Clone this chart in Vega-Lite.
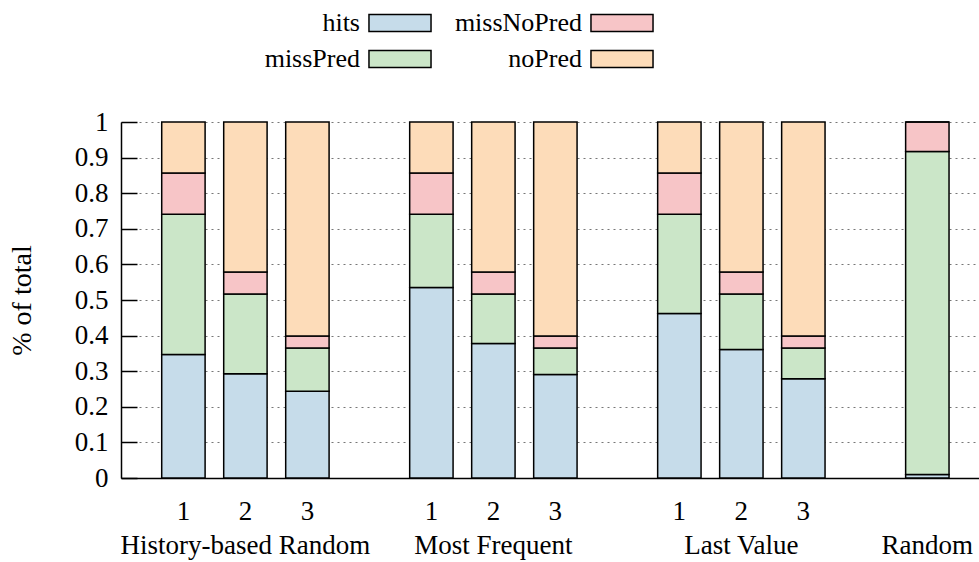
{
  "$schema": "https://vega.github.io/schema/vega-lite/v6.json",
  "width": 858,
  "height": 356,
  "autosize": {"type": "none"},
  "padding": {"left": 121, "top": 122, "right": 0, "bottom": 84},
  "background": "white",
  "config": {
    "font": "Liberation Serif",
    "view": {"stroke": null}
  },
  "data": {
    "values": [
      {"bar": "H1", "seg": "hits", "k": 1, "v": 0.347},
      {"bar": "H1", "seg": "missPred", "k": 2, "v": 0.394},
      {"bar": "H1", "seg": "missNoPred", "k": 3, "v": 0.116},
      {"bar": "H1", "seg": "noPred", "k": 4, "v": 0.143},
      {"bar": "H2", "seg": "hits", "k": 1, "v": 0.293},
      {"bar": "H2", "seg": "missPred", "k": 2, "v": 0.224},
      {"bar": "H2", "seg": "missNoPred", "k": 3, "v": 0.062},
      {"bar": "H2", "seg": "noPred", "k": 4, "v": 0.421},
      {"bar": "H3", "seg": "hits", "k": 1, "v": 0.244},
      {"bar": "H3", "seg": "missPred", "k": 2, "v": 0.121},
      {"bar": "H3", "seg": "missNoPred", "k": 3, "v": 0.034},
      {"bar": "H3", "seg": "noPred", "k": 4, "v": 0.601},
      {"bar": "M1", "seg": "hits", "k": 1, "v": 0.535},
      {"bar": "M1", "seg": "missPred", "k": 2, "v": 0.206},
      {"bar": "M1", "seg": "missNoPred", "k": 3, "v": 0.116},
      {"bar": "M1", "seg": "noPred", "k": 4, "v": 0.143},
      {"bar": "M2", "seg": "hits", "k": 1, "v": 0.378},
      {"bar": "M2", "seg": "missPred", "k": 2, "v": 0.139},
      {"bar": "M2", "seg": "missNoPred", "k": 3, "v": 0.062},
      {"bar": "M2", "seg": "noPred", "k": 4, "v": 0.421},
      {"bar": "M3", "seg": "hits", "k": 1, "v": 0.291},
      {"bar": "M3", "seg": "missPred", "k": 2, "v": 0.074},
      {"bar": "M3", "seg": "missNoPred", "k": 3, "v": 0.034},
      {"bar": "M3", "seg": "noPred", "k": 4, "v": 0.601},
      {"bar": "L1", "seg": "hits", "k": 1, "v": 0.462},
      {"bar": "L1", "seg": "missPred", "k": 2, "v": 0.279},
      {"bar": "L1", "seg": "missNoPred", "k": 3, "v": 0.116},
      {"bar": "L1", "seg": "noPred", "k": 4, "v": 0.143},
      {"bar": "L2", "seg": "hits", "k": 1, "v": 0.361},
      {"bar": "L2", "seg": "missPred", "k": 2, "v": 0.156},
      {"bar": "L2", "seg": "missNoPred", "k": 3, "v": 0.062},
      {"bar": "L2", "seg": "noPred", "k": 4, "v": 0.421},
      {"bar": "L3", "seg": "hits", "k": 1, "v": 0.279},
      {"bar": "L3", "seg": "missPred", "k": 2, "v": 0.086},
      {"bar": "L3", "seg": "missNoPred", "k": 3, "v": 0.034},
      {"bar": "L3", "seg": "noPred", "k": 4, "v": 0.601},
      {"bar": "R", "seg": "hits", "k": 1, "v": 0.01},
      {"bar": "R", "seg": "missPred", "k": 2, "v": 0.907},
      {"bar": "R", "seg": "missNoPred", "k": 3, "v": 0.083},
      {"bar": "R", "seg": "noPred", "k": 4, "v": 0.0}
    ]
  },
  "mark": {"type": "bar", "stroke": "black", "strokeWidth": 1.5},
  "encoding": {
    "x": {
      "field": "bar",
      "type": "nominal",
      "scale": {
        "domain": ["H1", "H2", "H3", "g1", "M1", "M2", "M3", "g2", "L1", "L2", "L3", "g3", "R"],
        "paddingInner": 0.3,
        "paddingOuter": 0.57,
        "align": 0.576
      },
      "axis": {
        "title": null,
        "labelAngle": 0,
        "ticks": false,
        "domainColor": "black",
        "domainWidth": 1.5,
        "labelFontSize": 27,
        "labelColor": "black",
        "labelBaseline": "top",
        "labelLineHeight": 34,
        "labelPadding": 20,
        "labelLimit": 0,
        "labelFont": "Liberation Serif",
        "labelExpr": "datum.value=='H2'?['2','History-based Random']:datum.value=='M2'?['2','Most Frequent']:datum.value=='L2'?['2','Last Value']:datum.value=='R'?['','Random']:indexof(datum.value,'g')==0?'':substring(datum.value,1)"
      }
    },
    "y": {
      "field": "v",
      "type": "quantitative",
      "stack": "zero",
      "scale": {"domain": [0, 1], "nice": false},
      "axis": {
        "title": "% of total",
        "titleFontSize": 28,
        "titleFontWeight": "normal",
        "titleColor": "black",
        "titleFont": "Liberation Serif",
        "titlePadding": 38,
        "values": [0, 0.1, 0.2, 0.3, 0.4, 0.5, 0.6, 0.7, 0.8, 0.9, 1],
        "labelExpr": "datum.value==0?'0':datum.value==1?'1':format(datum.value,'.1f')",
        "labelFontSize": 27,
        "labelColor": "black",
        "labelFont": "Liberation Serif",
        "labelPadding": 29,
        "tickSize": -16,
        "tickColor": "black",
        "tickWidth": 1.5,
        "domainColor": "black",
        "domainWidth": 1.5,
        "grid": true,
        "gridColor": "#777777",
        "gridDash": [2, 4],
        "gridWidth": 1
      }
    },
    "order": {"field": "k", "type": "quantitative", "sort": "ascending"},
    "color": {
      "field": "seg",
      "type": "nominal",
      "scale": {
        "domain": ["hits", "missPred", "missNoPred", "noPred"],
        "range": ["#c6dcea", "#cbe6c8", "#f7c5c7", "#fddcb9"]
      },
      "legend": {
        "title": null,
        "orient": "none",
        "legendX": 266,
        "legendY": -112,
        "columns": 2,
        "columnPadding": 19,
        "rowPadding": 10,
        "symbolType": "M-3.65,-1H3.65V1H-3.65Z",
        "symbolSize": 289,
        "symbolStrokeColor": "black",
        "symbolStrokeWidth": 1.5,
        "symbolOpacity": 1,
        "labelFontSize": 26,
        "labelFont": "Liberation Serif",
        "labelColor": "black",
        "labelAlign": "right",
        "labelOffset": -53,
        "labelLimit": 300
      }
    }
  }
}
